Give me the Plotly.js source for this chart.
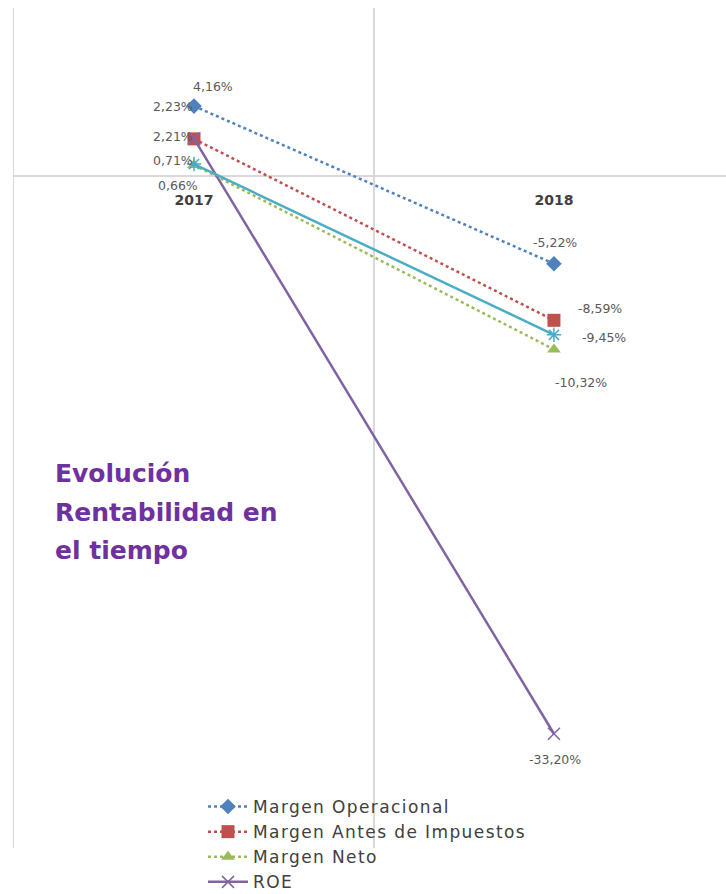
<!DOCTYPE html>
<html>
<head>
<meta charset="utf-8">
<script src="https://cdn.plot.ly/plotly-3.0.1.min.js"></script>
<style>html,body{margin:0;padding:0;background:#fff;}#chart{width:726px;height:894px;}
#chart .legendtext{letter-spacing:1.4px;}
#chart g.legend g.scrollbox{clip-path:none !important;}</style>
</head>
<body>
<div id="chart"></div>
<script>
// ---- data ----
const categories = ['2017', '2018'];
const margenOperacional = [4.16, -5.22];
const margenAntesImpuestos = [2.21, -8.59];
const margenNeto = [0.66, -10.32];
const roe = [2.23, -33.20];
const roa = [0.71, -9.45];
const seriesNames = ['Margen Operacional', 'Margen Antes de Impuestos', 'Margen Neto', 'ROE', 'ROA'];
const chartTitleLines = ['Evolución', 'Rentabilidad en', 'el tiempo'];

// ---- styles ----
const seriesValues = [margenOperacional, margenAntesImpuestos, margenNeto, roe, roa];
const colors = ['#4F81BD', '#C0504D', '#9BBB59', '#8064A2', '#4BACC6'];
const dashes = ['dot', 'dot', 'dot', 'solid', 'solid'];
const widths = [2.5, 2.5, 2.5, 2.5, 2.5];
const symbols = ['diamond', 'square', 'triangle-up', 'x-thin-open', 'asterisk-open'];
const msizes = [12, 13, 12, 12, 12];
// the 5th legend entry falls below the visible area in the reference
const inLegend = [true, true, true, true, false];
// label offsets [xshift, yshift] per series per point
const labelOffsets = [
  [[19, 20], [1, 21]],
  [[-21, 2], [46, 12]],
  [[-16, -21], [27, -33]],
  [[-21, 32], [1, -26]],
  [[-21, 4], [50, -3]]
];

const fmt = v => v.toFixed(2).replace('.', ',') + '%';

const traces = seriesValues.map((vals, i) => ({
  type: 'scatter',
  mode: 'lines+markers',
  name: seriesNames[i],
  showlegend: inLegend[i],
  x: categories,
  y: vals,
  line: {color: colors[i], width: widths[i], dash: dashes[i]},
  marker: {
    symbol: symbols[i], size: msizes[i], color: colors[i],
    line: {color: colors[i], width: (i >= 3 ? 1.5 : 0)}
  },
  hoverinfo: 'skip'
}));

const annotations = [];
seriesValues.forEach((vals, i) => {
  vals.forEach((v, j) => {
    annotations.push({
      x: j, y: v, xref: 'x', yref: 'y',
      text: fmt(v), showarrow: false,
      xanchor: 'center', yanchor: 'middle',
      xshift: labelOffsets[i][j][0], yshift: labelOffsets[i][j][1],
      font: {family: 'DejaVu Sans', size: 12.5, color: '#595959'}
    });
  });
});
chartTitleLines.forEach((t, k) => {
  annotations.push({
    xref: 'paper', yref: 'paper', x: 39 / 712, y: (848 - (473 + k * 39)) / 840,
    xanchor: 'left', yanchor: 'middle', showarrow: false, align: 'left',
    text: '<b>' + t + '</b>',
    font: {family: 'DejaVu Sans', size: 25, color: '#7030A0'}
  });
});

const layout = {
  width: 726, height: 894,
  margin: {l: 14, r: 0, t: 8, b: 46, autoexpand: false},
  paper_bgcolor: '#ffffff', plot_bgcolor: '#ffffff',
  showlegend: true,
  legend: {
    xref: 'container', yref: 'container',
    x: 203 / 726, y: 1 - 789 / 894, xanchor: 'left', yanchor: 'top',
    bgcolor: 'rgba(0,0,0,0)', borderwidth: 0,
    itemwidth: 40, tracegroupgap: 0,
    font: {family: 'DejaVu Sans', size: 17, color: '#404040'}
  },
  xaxis: {
    type: 'category', range: [-0.5, 1.478],
    anchor: 'free', position: 0.8,
    tickson: 'boundaries', showgrid: true, gridcolor: '#d9d9d9', gridwidth: 1.5,
    showline: false, zeroline: false, ticks: '',
    ticklabelstandoff: 14,
    tickfont: {family: 'DejaVu Sans', size: 14, color: '#404040', weight: 'bold'}
  },
  yaxis: {
    range: [-40, 10], showgrid: false, showticklabels: false, ticks: '',
    zeroline: true, zerolinecolor: '#d9d9d9', zerolinewidth: 1.5,
    showline: true, linecolor: '#d9d9d9', linewidth: 1.5
  },
  annotations: annotations,
  hovermode: false
};

Plotly.newPlot('chart', traces, layout, {displayModeBar: false, staticPlot: true});
</script>
</body>
</html>
